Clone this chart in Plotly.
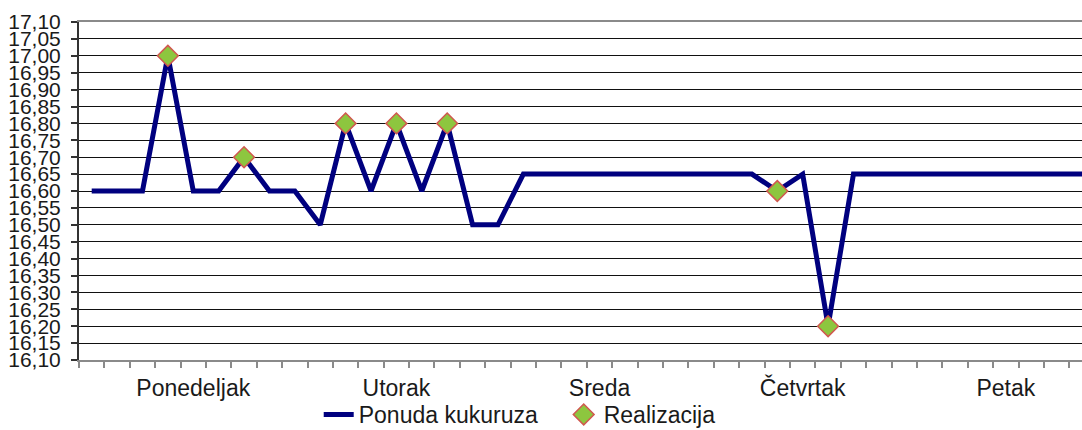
import plotly.graph_objects as go

# --- data ---
points = list(range(40))
ponuda = [16.60, 16.60, 16.60, 17.00, 16.60, 16.60, 16.70, 16.60, 16.60, 16.50,
          16.80, 16.60, 16.80, 16.60, 16.80, 16.50, 16.50, 16.65, 16.65, 16.65,
          16.65, 16.65, 16.65, 16.65, 16.65, 16.65, 16.65, 16.60, 16.65, 16.20,
          16.65, 16.65, 16.65, 16.65, 16.65, 16.65, 16.65, 16.65, 16.65, 16.65]
realizacija = [None, None, None, 17.00, None, None, 16.70, None, None, None,
               16.80, None, 16.80, None, 16.80, None, None, None, None, None,
               None, None, None, None, None, None, None, 16.60, None, 16.20,
               None, None, None, None, None, None, None, None, None, None]
day_labels = ["Ponedeljak", "Utorak", "Sreda", "Četvrtak", "Petak"]
day_points = [4, 12, 20, 28, 36]

FONT = "Liberation Sans, Arial, sans-serif"

fig = go.Figure()
fig.add_trace(go.Scatter(
    x=points, y=ponuda, mode="lines", name="Ponuda kukuruza",
    line=dict(color="#00007F", width=5),
))
fig.add_trace(go.Scatter(
    x=points, y=realizacija, mode="markers", name="Realizacija",
    marker=dict(symbol="diamond", size=16, color="#8DC63F",
                line=dict(color="#D0584F", width=1.5)),
))

fig.update_layout(
    width=1082, height=430,
    margin=dict(l=79, r=0, t=22, b=70, autoexpand=False),
    paper_bgcolor="white", plot_bgcolor="white",
    separators=", ",
    font=dict(family=FONT, color="#1a1a1a"),
    showlegend=True,
    legend=dict(orientation="h", x=0.239, xanchor="left",
                yref="container", y=0.036, yanchor="middle",
                font=dict(size=23, family=FONT, color="#1a1a1a"),
                entrywidth=200, bgcolor="rgba(0,0,0,0)"),
)

fig.update_xaxes(
    range=[-0.5, 39.0], automargin=False,
    tickmode="array", tickvals=day_points, ticktext=day_labels,
    ticks="", ticklabelstandoff=6,
    tickfont=dict(size=23, family=FONT, color="#1a1a1a"),
    showgrid=False, zeroline=False,
    showline=True, linecolor="#8a8a8a", linewidth=2, mirror=True,
    minor=dict(tickmode="linear", tick0=-0.5, dtick=1, ticks="outside",
               ticklen=6, tickcolor="#8a8a8a", tickwidth=1.5, showgrid=False),
)
fig.update_yaxes(
    range=[16.10, 17.10], tickmode="linear", tick0=16.10, dtick=0.05,
    tickformat=".2f", automargin=False,
    tickfont=dict(size=21, family=FONT, color="#1a1a1a"),
    ticks="outside", ticklen=6, tickcolor="#333333", tickwidth=1.5,
    ticklabelstandoff=6,
    showgrid=True, gridcolor="#111111", gridwidth=1,
    zeroline=False,
    showline=True, linecolor="#333333", linewidth=2,
)

fig.write_html("out.html", config={"displayModeBar": False},
               post_script="document.body.style.margin='0';document.body.style.overflow='hidden';")
